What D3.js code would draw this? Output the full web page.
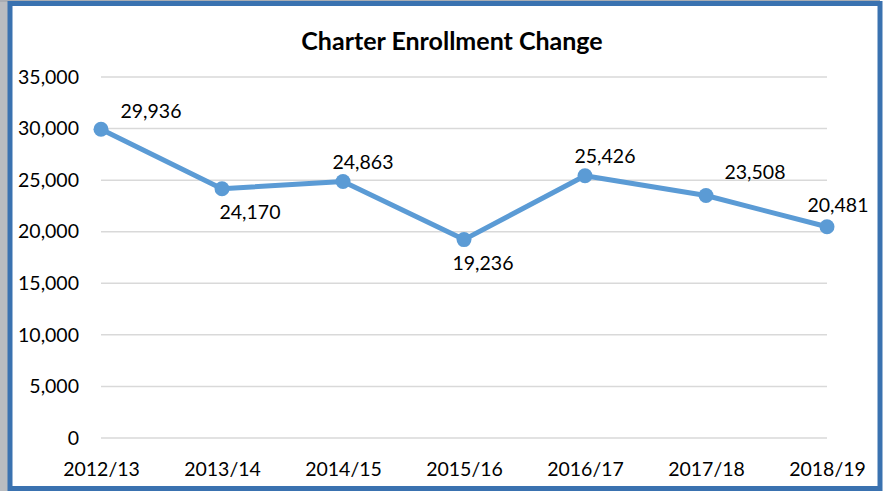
<!DOCTYPE html>
<html>
<head>
<meta charset="utf-8">
<script src="https://cdn.jsdelivr.net/npm/d3@7"></script>
<style>
  body { margin: 0; background: #fff; }
  svg { display: block; font-family: Lato, "Open Sans", sans-serif; }
</style>
</head>
<body>
<div id="chart"></div>
<script>
// data
const years = ['2012/13', '2013/14', '2014/15', '2015/16', '2016/17', '2017/18', '2018/19'];
const enrollment = [29936, 24170, 24863, 19236, 25426, 23508, 20481];
const yTicks = [0, 5000, 10000, 15000, 20000, 25000, 30000, 35000];
// where each data label sits relative to its point
const labelPlace = ['upRight', 'downRight', 'up', 'down', 'up', 'upFarRight', 'upSlight'];

const svgWidth = 884, svgHeight = 491;
const offsets = {
    upRight:    [50, -11],
    downRight:  [28, 30],
    up:         [20, -13],
    down:       [19, 30],
    upFarRight: [49, -17],
    upSlight:   [11, -15]
};

let svg = d3.select('#chart')
    .append('svg')
    .attr('width', svgWidth)
    .attr('height', svgHeight);

// backdrop outside the chart frame
svg.append('rect').attr('x', 0).attr('y', 0).attr('width', svgWidth).attr('height', svgHeight).attr('fill', '#fff');
svg.append('rect').attr('x', 0).attr('y', 0).attr('width', 8).attr('height', svgHeight).attr('fill', '#b9bcc0');
svg.append('rect').attr('x', 0).attr('y', 0).attr('width', svgWidth - 4).attr('height', 2).attr('fill', '#a9adb3');

// chart frame
svg.append('rect')
    .attr('x', 10)
    .attr('y', 3.5)
    .attr('width', 870)
    .attr('height', 485)
    .attr('fill', '#fff')
    .attr('stroke', '#3a72b0')
    .attr('stroke-width', 5);

let xScale = d3.scalePoint()
    .domain(years)
    .range([101, 827]);

let yScale = d3.scaleLinear()
    .domain([0, 35000])
    .range([438, 77]);

const fmt = d3.format(',');

// gridlines
svg.append('g')
    .selectAll('line')
    .data(yTicks)
    .join('line')
    .attr('x1', 101)
    .attr('x2', 827)
    .attr('y1', d => yScale(d))
    .attr('y2', d => yScale(d))
    .attr('stroke', '#d9d9d9')
    .attr('stroke-width', 1.5);

// y axis
let yAxis = svg.append('g')
    .attr('transform', 'translate(79,0)')
    .call(d3.axisLeft(yScale).tickValues(yTicks).tickFormat(fmt).tickSize(0).tickPadding(0));
yAxis.select('.domain').remove();
yAxis.selectAll('text')
    .attr('font-size', 19.5)
    .attr('font-family', 'Lato, sans-serif')
    .attr('fill', '#000')
    .attr('dy', '0.32em');

// x axis
let xAxis = svg.append('g')
    .attr('transform', 'translate(0,476)')
    .call(d3.axisBottom(xScale).tickSize(0).tickPadding(0));
xAxis.select('.domain').remove();
xAxis.selectAll('text')
    .attr('font-size', 19.5)
    .attr('font-family', 'Lato, sans-serif')
    .attr('fill', '#000')
    .attr('dy', 0)
    .attr('y', 0);

// title
svg.append('text')
    .attr('x', 452)
    .attr('y', 50)
    .attr('text-anchor', 'middle')
    .attr('font-size', 25)
    .attr('font-weight', 'bold')
    .attr('fill', '#000')
    .text('Charter Enrollment Change');

// line
let line = d3.line()
    .x((d, i) => xScale(years[i]))
    .y(d => yScale(d));

svg.append('path')
    .datum(enrollment)
    .attr('d', line)
    .attr('fill', 'none')
    .attr('stroke', '#5b9bd5')
    .attr('stroke-width', 5)
    .attr('stroke-linejoin', 'round');

svg.append('g')
    .selectAll('circle')
    .data(enrollment)
    .join('circle')
    .attr('cx', (d, i) => xScale(years[i]))
    .attr('cy', d => yScale(d))
    .attr('r', 7.5)
    .attr('fill', '#5b9bd5');

// data labels
svg.append('g')
    .selectAll('text')
    .data(enrollment)
    .join('text')
    .attr('x', (d, i) => xScale(years[i]) + offsets[labelPlace[i]][0])
    .attr('y', (d, i) => yScale(d) + offsets[labelPlace[i]][1])
    .attr('text-anchor', 'middle')
    .attr('font-size', 19.5)
    .attr('fill', '#000')
    .text(d => fmt(d));
</script>
</body>
</html>
